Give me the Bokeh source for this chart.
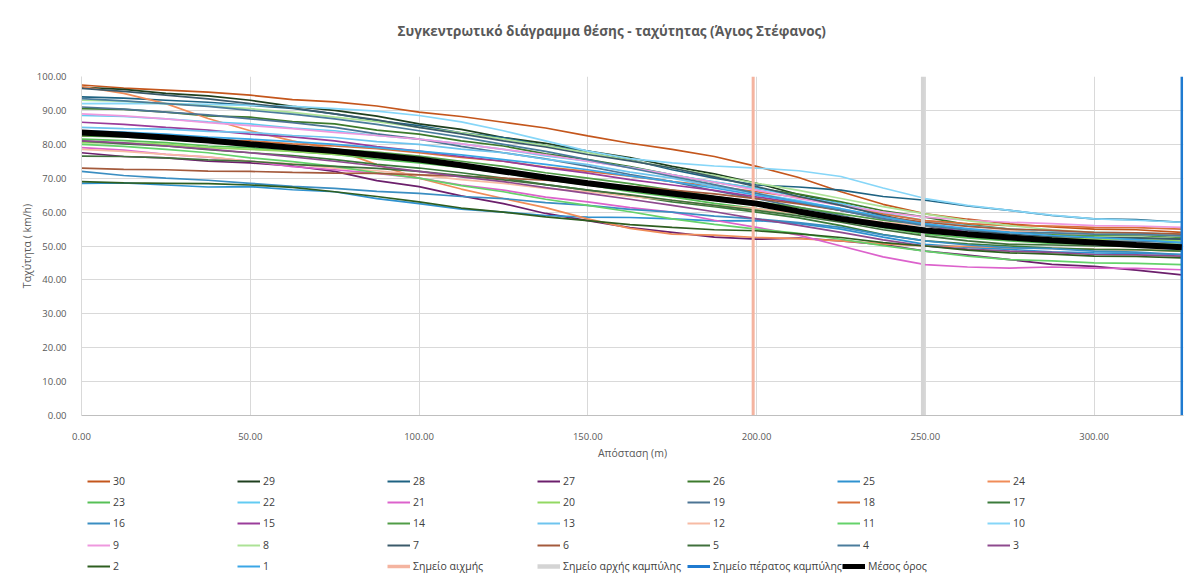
from bokeh.plotting import figure
from bokeh.layouts import column
from bokeh.models import Range1d, Legend, LegendItem, NumeralTickFormatter, FixedTicker, Title
from bokeh.embed import file_html
from bokeh.resources import INLINE

TITLE = "Συγκεντρωτικό διάγραμμα θέσης - ταχύτητας (Άγιος Στέφανος)"
X_LABEL = "Απόσταση (m)"
Y_LABEL = "Ταχύτητα ( km/h)"

DIST = [0, 12.5, 25, 37.5, 50, 62.5, 75, 87.5, 100, 112.5, 125, 137.5, 150, 162.5, 175,
        187.5, 200, 212.5, 225, 237.5, 250, 262.5, 275, 287.5, 300, 312.5, 326]

s30 = [97.5, 96.6, 96.0, 95.4, 94.5, 93.2, 92.5, 91.3, 89.5, 88.2, 86.5, 84.8, 82.5, 80.3, 78.5, 76.4, 73.5, 70.2, 66.0, 62.3, 59.5, 57.9, 56.5, 55.6, 55.0, 54.8, 54.0]
s29 = [96.8, 96.2, 95.0, 94.3, 93.0, 91.2, 90.0, 88.3, 86.0, 84.4, 82.0, 80.3, 78.0, 76.1, 73.5, 71.3, 68.5, 65.2, 62.5, 58.9, 56.0, 53.8, 52.5, 51.4, 51.0, 50.7, 50.0]
s28 = [94.0, 93.6, 93.0, 92.4, 91.5, 90.6, 89.0, 87.0, 85.5, 83.4, 82.0, 79.6, 78.0, 75.5, 72.5, 70.0, 68.0, 67.4, 66.5, 64.6, 63.5, 61.8, 60.5, 59.0, 58.0, 57.8, 57.0]
s27 = [77.5, 76.4, 76.0, 75.0, 74.5, 73.6, 72.0, 69.3, 67.5, 64.8, 62.5, 59.6, 57.5, 55.4, 54.0, 52.6, 52.0, 52.3, 51.5, 50.4, 48.5, 47.3, 46.0, 44.6, 44.0, 42.9, 41.5]
s26 = [90.5, 90.3, 89.5, 88.4, 88.0, 86.7, 86.0, 84.2, 83.0, 81.0, 79.5, 77.2, 75.5, 73.4, 71.0, 68.8, 67.0, 65.3, 63.0, 60.4, 58.5, 56.3, 55.0, 53.4, 52.5, 52.4, 52.0]
s25 = [68.5, 68.6, 68.0, 67.4, 67.5, 66.6, 66.0, 64.0, 62.5, 60.9, 60.0, 59.0, 58.5, 58.4, 58.0, 57.4, 57.5, 56.6, 55.0, 52.6, 50.5, 49.6, 49.0, 48.3, 48.0, 47.8, 47.5]
s24 = [97.0, 95.0, 92.0, 87.6, 84.0, 81.0, 78.5, 74.0, 70.0, 66.8, 64.0, 61.3, 58.0, 55.2, 53.5, 53.2, 52.5, 52.2, 51.5, 50.6, 50.0, 49.9, 49.5, 49.3, 49.0, 48.9, 48.5]
s23 = [81.5, 81.1, 80.5, 79.5, 79.0, 77.9, 77.0, 75.6, 74.5, 73.2, 71.5, 69.6, 68.0, 66.0, 64.5, 62.6, 61.0, 59.5, 57.5, 55.4, 53.5, 52.4, 51.5, 50.8, 50.5, 50.6, 50.5]
s22 = [88.5, 88.2, 87.5, 86.6, 86.0, 84.8, 84.0, 82.6, 81.5, 80.1, 78.5, 76.6, 75.0, 73.2, 71.0, 68.9, 67.0, 64.6, 62.5, 59.7, 57.5, 56.0, 55.0, 54.4, 54.0, 53.8, 53.5]
s21 = [79.0, 78.3, 77.0, 76.2, 75.0, 73.4, 72.5, 71.4, 70.0, 68.0, 66.5, 64.4, 63.0, 61.3, 60.0, 57.6, 55.5, 53.2, 50.0, 46.8, 44.5, 43.8, 43.5, 43.8, 43.5, 43.4, 43.0]
s20 = [80.5, 80.4, 80.0, 79.0, 78.5, 77.9, 77.0, 76.1, 75.0, 73.3, 72.0, 70.0, 68.5, 66.8, 65.5, 63.6, 62.0, 60.4, 58.5, 56.5, 55.0, 53.8, 53.0, 52.4, 52.0, 51.9, 51.5]
s19 = [91.0, 90.4, 89.5, 88.7, 87.5, 86.4, 85.0, 83.1, 81.5, 79.4, 77.5, 75.7, 73.5, 71.1, 69.0, 66.3, 64.0, 61.4, 59.0, 56.4, 54.5, 53.3, 52.5, 51.8, 51.5, 51.4, 51.0]
s18 = [82.5, 82.4, 82.0, 81.3, 81.0, 80.1, 79.5, 78.7, 77.5, 76.1, 75.0, 73.3, 72.0, 70.6, 69.0, 67.7, 66.0, 64.3, 62.0, 59.4, 57.5, 56.6, 56.0, 55.9, 55.5, 55.4, 55.0]
s17 = [81.0, 80.1, 79.5, 78.4, 77.5, 76.7, 75.5, 74.1, 73.0, 71.6, 70.0, 68.1, 66.5, 64.9, 63.0, 61.6, 60.0, 58.3, 56.0, 53.4, 51.5, 50.6, 50.0, 49.4, 49.0, 48.9, 48.5]
s16 = [72.0, 70.8, 70.0, 69.4, 68.5, 67.6, 67.0, 66.1, 65.5, 64.6, 64.0, 62.8, 62.0, 60.8, 60.0, 58.8, 58.0, 56.9, 55.5, 53.3, 51.5, 50.3, 49.5, 49.2, 48.5, 48.2, 47.5]
s15 = [86.5, 85.9, 85.0, 84.2, 83.0, 82.2, 81.0, 79.3, 78.0, 76.4, 75.0, 73.1, 71.5, 69.6, 68.0, 66.4, 64.5, 62.7, 60.5, 58.1, 56.0, 54.2, 53.0, 51.8, 51.0, 50.7, 50.0]
s14 = [82.5, 82.2, 81.5, 80.6, 80.0, 79.4, 78.5, 77.7, 76.5, 75.0, 73.5, 71.6, 70.0, 68.4, 66.5, 64.6, 63.0, 61.4, 59.5, 57.6, 56.0, 54.9, 54.0, 53.6, 53.0, 53.1, 52.5]
s13 = [85.0, 84.6, 84.5, 83.8, 83.5, 82.6, 82.0, 80.8, 80.0, 78.6, 77.5, 75.6, 74.0, 71.8, 70.0, 67.6, 65.5, 63.4, 61.0, 58.6, 56.5, 54.6, 53.0, 51.6, 50.5, 49.9, 49.0]
s12 = [78.5, 77.9, 77.0, 76.3, 75.0, 74.2, 73.0, 72.2, 71.0, 69.6, 68.5, 67.0, 66.0, 64.6, 63.5, 62.0, 61.0, 59.6, 58.5, 57.0, 56.0, 55.0, 54.5, 53.8, 53.5, 53.4, 53.0]
s11 = [80.0, 79.4, 78.5, 77.5, 76.0, 74.9, 73.5, 71.6, 70.0, 67.8, 66.0, 63.8, 62.0, 60.1, 58.0, 56.4, 55.0, 53.7, 52.0, 50.1, 48.5, 47.0, 46.0, 45.6, 45.0, 44.9, 44.5]
s10 = [92.0, 92.1, 92.0, 91.8, 91.5, 91.2, 90.5, 89.8, 88.5, 86.6, 84.0, 81.0, 78.0, 75.8, 74.5, 73.6, 73.0, 72.2, 70.5, 67.1, 64.0, 62.0, 60.5, 59.1, 58.0, 57.6, 57.0]
s9 = [89.0, 88.4, 87.5, 86.4, 85.5, 84.6, 83.5, 82.6, 81.5, 80.1, 78.5, 76.9, 75.0, 73.1, 71.0, 68.8, 66.5, 64.0, 62.0, 60.0, 58.5, 57.6, 57.0, 56.6, 56.0, 55.9, 55.5]
s8 = [93.0, 92.7, 92.0, 91.3, 90.5, 89.4, 88.0, 86.7, 85.0, 83.4, 81.5, 79.6, 77.5, 75.3, 73.0, 70.8, 68.5, 66.4, 64.0, 61.6, 59.5, 57.5, 56.0, 54.8, 54.0, 53.6, 53.0]
s7 = [96.5, 95.6, 94.5, 93.4, 92.0, 90.7, 89.0, 87.2, 85.0, 83.1, 81.0, 79.2, 77.0, 75.1, 73.0, 70.4, 67.5, 64.6, 62.0, 59.0, 56.5, 54.7, 53.5, 52.8, 52.5, 52.3, 52.0]
s6 = [73.0, 72.6, 72.5, 72.1, 72.0, 71.7, 71.5, 71.4, 71.0, 70.6, 70.0, 69.4, 68.5, 67.6, 66.5, 65.4, 64.0, 62.4, 60.5, 58.6, 57.0, 55.8, 55.0, 54.6, 54.0, 53.9, 53.5]
s5 = [76.5, 76.4, 76.0, 75.4, 75.0, 74.1, 73.5, 72.9, 72.0, 70.8, 69.5, 68.1, 66.5, 65.1, 63.5, 62.0, 60.5, 58.9, 57.0, 54.8, 53.0, 51.5, 50.5, 50.3, 50.0, 49.9, 49.5]
s4 = [93.5, 92.8, 92.0, 91.2, 90.0, 88.9, 87.5, 85.9, 84.0, 82.1, 80.0, 77.9, 75.5, 73.0, 70.5, 68.1, 65.5, 62.9, 60.5, 58.0, 56.0, 54.8, 54.0, 53.9, 53.5, 53.4, 53.0]
s3 = [81.0, 80.4, 79.5, 78.6, 77.5, 76.3, 75.0, 73.6, 72.0, 70.4, 69.0, 67.2, 65.5, 63.8, 62.0, 60.1, 58.0, 56.1, 54.0, 51.8, 50.0, 49.1, 48.5, 48.1, 47.5, 47.4, 47.0]
s2 = [69.0, 68.6, 68.5, 68.4, 68.0, 67.3, 66.0, 64.6, 63.0, 61.2, 60.0, 58.6, 57.5, 56.3, 55.5, 54.8, 54.5, 53.6, 52.5, 51.0, 50.0, 48.8, 48.0, 47.6, 47.0, 46.9, 46.5]
s1 = [84.0, 83.6, 83.0, 82.1, 81.5, 80.8, 80.0, 79.0, 78.0, 76.9, 75.5, 74.1, 72.5, 70.7, 69.0, 67.1, 65.0, 63.1, 61.0, 58.6, 56.5, 55.1, 54.0, 53.1, 52.5, 51.9, 51.0]

MEAN = [83.5, 82.8, 82.0, 81.1, 80.0, 79.0, 78.0, 76.8, 75.5, 73.8, 72.0, 70.2, 68.5, 67.0, 65.5, 64.0, 62.5, 60.2, 58.0, 56.2, 54.6, 53.5, 52.5, 51.7, 51.0, 50.3, 49.6]

SERIES_NAMES = [str(i) for i in range(30, 0, -1)]
SERIES_VALUES = [s30, s29, s28, s27, s26, s25, s24, s23, s22, s21, s20, s19, s18, s17, s16,
                 s15, s14, s13, s12, s11, s10, s9, s8, s7, s6, s5, s4, s3, s2, s1]
SERIES_COLORS = ["#C4561C", "#1E3F1E", "#1E6282", "#6C1F6C", "#3C7A2C", "#2F92D0", "#F08C58",
                 "#56C056", "#62CBF2", "#DC62CC", "#92D862", "#4C7494", "#D8703A", "#3B7B3B",
                 "#3A8EC2", "#9A3C9A", "#509C46", "#6EC4EE", "#F7BBA4", "#64D26A", "#86D6F8",
                 "#EE98DE", "#ACE296", "#3B5A6A", "#A45A3C", "#40703C", "#4A7C9C", "#8E4A8E",
                 "#2E5E20", "#3AA6E6"]

MARKERS = ["Σημείο αιχμής", "Σημείο αρχής καμπύλης", "Σημείο πέρατος καμπύλης"]
MARKER_X = [199.0, 249.3, 326.0]
MARKER_Y = [0, 100]
MARKER_COLORS = ["#F4B4A0", "#D4D4D4", "#1F7AD0"]
MARKER_WIDTHS = [3, 4, 2.5]
MEAN_NAME = "Μέσος όρος"

FONT = "Open Sans"

# ---------------- main chart ----------------
p = figure(width=1190, height=465, output_backend="svg", toolbar_location=None,
           x_range=Range1d(0, 326.5), y_range=Range1d(0, 100),
           min_border_left=81, min_border_right=7, min_border_top=76, min_border_bottom=50)
p.outline_line_color = None
p.background_fill_color = "white"

for vals, col in zip(SERIES_VALUES, SERIES_COLORS):
    p.line(DIST, vals, line_color=col, line_width=1.7)
for xv, col, w in zip(MARKER_X, MARKER_COLORS, MARKER_WIDTHS):
    p.line([xv, xv], MARKER_Y, line_color=col, line_width=w)
p.line(DIST, MEAN, line_color="black", line_width=6)

p.xaxis.ticker = FixedTicker(ticks=[0, 50, 100, 150, 200, 250, 300])
p.yaxis.ticker = FixedTicker(ticks=list(range(0, 101, 10)))
p.xaxis.formatter = NumeralTickFormatter(format="0.00")
p.yaxis.formatter = NumeralTickFormatter(format="0.00")
for ax in (p.xaxis, p.yaxis):
    ax.major_tick_line_color = None
    ax.minor_tick_line_color = None
    ax.major_label_text_font = FONT
    ax.major_label_text_font_size = "9.5px"
    ax.major_label_text_color = "#595959"
    ax.axis_label_text_font = FONT
    ax.axis_label_text_font_size = "10.5px"
    ax.axis_label_text_font_style = "normal"
    ax.axis_label_text_color = "#595959"
p.xaxis.axis_line_color = "#BFBFBF"
p.yaxis.axis_line_color = "#D9D9D9"
p.xaxis.axis_label = X_LABEL
p.yaxis.axis_label = Y_LABEL
p.xaxis.major_label_standoff = 11
p.yaxis.major_label_standoff = 9
p.xaxis.axis_label_standoff = 3
p.yaxis.axis_label_standoff = 0
p.xgrid.grid_line_color = "#D9D9D9"
p.ygrid.grid_line_color = "#D9D9D9"

p.add_layout(Title(text=" ", text_font_size="17.5px"), "above")
p.add_layout(Title(text=TITLE, align="left", offset=316, text_font=FONT,
                   text_font_size="13.5px", text_font_style="bold", text_color="#595959"), "above")

# ---------------- legend strip (same series and styles, drawn out of view) ----------------
LEG_H = 110
lf = figure(width=1190, height=LEG_H, output_backend="svg", toolbar_location=None,
            x_range=Range1d(-1000, -999), y_range=Range1d(-1000, -999),
            x_axis_location=None, y_axis_location=None,
            min_border_left=0, min_border_right=0, min_border_top=0, min_border_bottom=0)
lf.outline_line_color = None
lf.xgrid.visible = False
lf.ygrid.visible = False

items = []
for name, vals, col in zip(SERIES_NAMES, SERIES_VALUES, SERIES_COLORS):
    r = lf.line(DIST, vals, line_color=col, line_width=2)
    items.append(LegendItem(label=name, renderers=[r]))
for name, xv, col, w in zip(MARKERS, MARKER_X, MARKER_COLORS, MARKER_WIDTHS):
    r = lf.line([xv, xv], MARKER_Y, line_color=col, line_width=w + 0.5)
    items.append(LegendItem(label=name, renderers=[r]))
r = lf.line(DIST, MEAN, line_color="black", line_width=5)
items.append(LegendItem(label=MEAN_NAME, renderers=[r]))

ROW_CENTERS = [16, 37, 58, 80, 101]
for k in range(5):
    row = items[k * 7:(k + 1) * 7]
    leg = Legend(items=row, orientation="horizontal",
                 location=(6, LEG_H - ROW_CENTERS[k] - 8),
                 glyph_width=23, glyph_height=16, label_standoff=3, label_width=124,
                 label_height=16, spacing=0, padding=0, margin=0,
                 border_line_color=None, background_fill_alpha=0,
                 label_text_font=FONT, label_text_font_size="10.5px",
                 label_text_color="#404040")
    lf.add_layout(leg, "center")

layout = column(p, lf, spacing=0)
open("out.html", "w").write(file_html(layout, INLINE))
